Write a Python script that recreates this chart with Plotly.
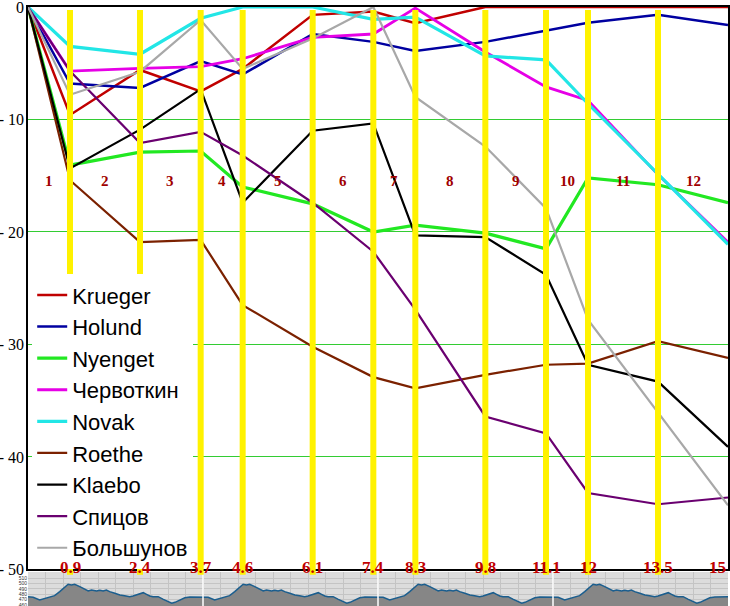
import plotly.graph_objects as go

# checkpoints (km)
km = [0, 0.9, 2.4, 3.7, 4.6, 6.1, 7.4, 8.3, 9.8, 11.1, 12, 13.5, 15]
km_labels = ["0.9", "2.4", "3.7", "4.6", "6.1", "7.4", "8.3", "9.8", "11.1", "12", "13.5", "15"]
section_labels = ["1", "2", "3", "4", "5", "6", "7", "8", "9", "10", "11", "12"]

# seconds behind leader at each checkpoint
krueger = [0, -9.6, -5.6, -7.5, -5.5, -0.7, -0.4, -1.45, 0, 0, 0, 0, 0]
holund = [0, -6.8, -7.2, -4.8, -6.0, -2.4, -3.1, -3.9, -3.1, -2.1, -1.4, -0.7, -1.6]
nyenget = [0, -14.05, -12.9, -12.8, -16.0, -17.5, -20.0, -19.4, -20.1, -21.5, -15.2, -15.8, -17.4]
chervotkin = [0, -5.7, -5.45, -5.3, -4.6, -2.7, -2.4, -0.1, -4.0, -7.1, -8.3, -14.9, -20.9]
novak = [0, -3.5, -4.2, -1.0, 0, 0, -1.1, -0.9, -4.35, -4.7, -8.6, -14.9, -21.1]
roethe = [0, -15.4, -20.9, -20.7, -26.5, -30.2, -32.9, -33.9, -32.7, -31.8, -31.7, -29.7, -31.2]
klaebo = [0, -14.35, -10.9, -7.3, -17.4, -11.0, -10.35, -20.3, -20.45, -23.8, -31.8, -33.3, -39.1]
spitsov = [0, -5.7, -12.1, -11.1, -13.2, -17.4, -21.75, -26.9, -36.4, -37.9, -43.2, -44.2, -43.6]
bolshunov = [0, -7.8, -5.75, -1.15, -5.5, -2.8, 0, -8.0, -12.4, -17.9, -27.8, -36.1, -44.3]

series = [
    ("Krueger", krueger, "#C00000", 2.5),
    ("Holund", holund, "#0000A0", 2.5),
    ("Nyenget", nyenget, "#22E822", 3.2),
    ("Червоткин", chervotkin, "#E600E6", 2.8),
    ("Novak", novak, "#22E6E6", 3.2),
    ("Roethe", roethe, "#7B2100", 2.2),
    ("Klaebo", klaebo, "#000000", 2.2),
    ("Спицов", spitsov, "#6A0070", 2.2),
    ("Большунов", bolshunov, "#A8A8A8", 2.2),
]

# elevation profile of one 3.75 km lap (km, metres); course = 4 laps
lap_length = 3.75
n_laps = 4
lap_km = [0, 0.11, 0.25, 0.36, 0.47, 0.57, 0.68, 0.79, 0.86, 0.93, 1.0, 1.11, 1.22, 1.29,
          1.36, 1.47, 1.54, 1.61, 1.68, 1.75, 1.86, 1.97, 2.07, 2.18, 2.25, 2.36, 2.47,
          2.54, 2.61, 2.68, 2.79, 2.9, 3.0, 3.08, 3.15, 3.25, 3.36, 3.47, 3.61, 3.75]
lap_elev = [475.6, 474.5, 469.4, 472.6, 475.6, 477.5, 485, 494.3, 498.8, 497.5, 498.8, 494.3,
            490, 486.3, 488.1, 486.3, 487.6, 486.3, 488.1, 485, 482, 478.8, 477.5, 475.6,
            476.9, 480, 483.1, 480, 476.9, 475.6, 475.6, 470.7, 466.3, 463.3, 465.1, 469.4,
            473.7, 475, 475, 475.4]

prof_x, prof_y = [], []
for lap in range(n_laps):
    prof_x += [lap * lap_length + k for k in lap_km]
    prof_y += lap_elev

fig = go.Figure()
for name, vals, color, w in series:
    fig.add_trace(go.Scatter(x=km, y=vals, mode="lines", name=name,
                             line=dict(color=color, width=w),
                             xaxis="x", yaxis="y"))

fig.add_trace(go.Scatter(x=prof_x, y=prof_y, mode="lines", fill="tozeroy",
                         fillcolor="#868686", line=dict(color="#1b5e8e", width=1.5),
                         showlegend=False, xaxis="x2", yaxis="y2", hoverinfo="skip"))

shapes = []
# profile background
shapes.append(dict(type="rect", xref="x2 domain", yref="y2 domain", x0=0, x1=1, y0=0, y1=1,
                   fillcolor="#dcdcdc", line=dict(width=0), layer="below"))
# lap boundaries
for lap in range(1, n_laps):
    shapes.append(dict(type="line", xref="x2", yref="y2 domain", x0=lap * lap_length,
                       x1=lap * lap_length, y0=0, y1=1,
                       line=dict(color="white", width=1.5), layer="above"))
# yellow checkpoint lines
for k in km[1:-1]:
    shapes.append(dict(type="line", xref="x", yref="paper", x0=k, x1=k, y0=0.052, y1=0.995,
                       line=dict(color="#FFF200", width=6), layer="above"))

annotations = []
serif = "Liberation Serif, Times New Roman, serif"
for i, lab in enumerate(section_labels):
    annotations.append(dict(x=(km[i] + km[i + 1]) / 2, y=-15.5, xref="x", yref="y",
                            text="<b>" + lab + "</b>", showarrow=False,
                            font=dict(family=serif, size=15, color="#A00000")))
for i, lab in enumerate(km_labels):
    last = i == len(km_labels) - 1
    annotations.append(dict(x=km[i + 1], y=-50, xref="x", yref="y",
                            text="<b>" + lab + "</b>", showarrow=False,
                            xanchor="right" if last else "center", yanchor="middle",
                            yshift=2,
                            font=dict(family=serif, size=17, color="#C00000")))

fig.update_layout(
    width=730, height=606,
    margin=dict(l=28, r=2, t=7, b=0),
    paper_bgcolor="white", plot_bgcolor="white",
    showlegend=True,
    legend=dict(x=0.006, y=0.554, xanchor="left", yanchor="top",
                bgcolor="white", borderwidth=0,
                font=dict(family="Liberation Sans, Arial, sans-serif", size=22, color="black")),
    xaxis=dict(domain=[0, 1], range=[0, 15], showticklabels=False, showgrid=False,
               zeroline=False, showline=True, mirror=True, linecolor="black", linewidth=1.5,
               ticks="", anchor="y", automargin=False),
    yaxis=dict(domain=[0.061, 1], range=[-50, 0], tickvals=[0, -10, -20, -30, -40, -50],
               ticktext=["0", "- 10", "- 20", "- 30", "- 40", "- 50"],
               tickfont=dict(family=serif, size=16, color="black"),
               ticklabeloverflow="allow", ticklabelstandoff=-1,
               showgrid=True, gridcolor="#33CC33", gridwidth=1, zeroline=False,
               showline=True, mirror=True, linecolor="black", linewidth=1.5, ticks="",
               anchor="x", automargin=False),
    xaxis2=dict(domain=[0, 1], range=[0, 15], showticklabels=False, dtick=0.375, tick0=0,
                showgrid=True, gridcolor="#c4c4c4", gridwidth=1, zeroline=False,
                showline=False, ticks="", anchor="y2", automargin=False),
    yaxis2=dict(domain=[0, 0.0568], range=[458.2, 521.8], tickvals=[460, 470, 480, 490, 500, 510],
                tickfont=dict(family="Liberation Sans, Arial, sans-serif", size=5, color="#333"),
                ticklabeloverflow="allow",
                showgrid=True, gridcolor="#c4c4c4", gridwidth=1, zeroline=False,
                showline=False, ticks="", anchor="x2", automargin=False),
    shapes=shapes,
    annotations=annotations,
)

fig.write_html("out.html", config={"displayModeBar": False},
               post_script="document.body.style.margin='0';document.body.style.padding='0';")
